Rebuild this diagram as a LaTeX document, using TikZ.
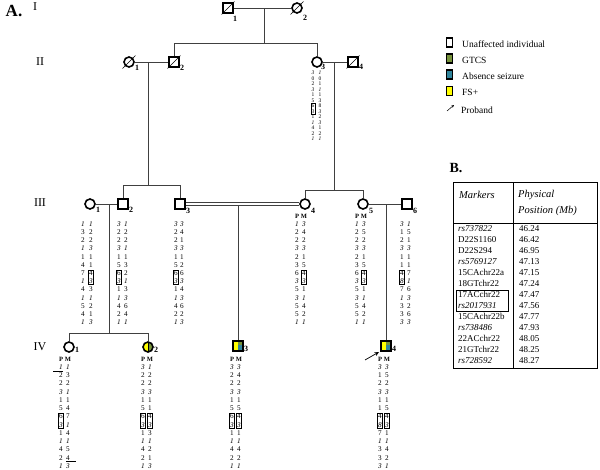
\documentclass[tikz,border=0pt]{standalone}
\usepackage{fontspec}
\setmainfont{Liberation Serif}
\usetikzlibrary{fit,arrows.meta}
\definecolor{gtcs}{HTML}{77933C}
\definecolor{absn}{HTML}{31859C}
\definecolor{fsp}{HTML}{FFFF00}
\definecolor{lncol}{HTML}{404040}
\newcommand{\rowstyle}[1]{\ifcase\numexpr#1\relax\or\itshape\or\or\or\itshape\or\or\or\or\itshape\or\or\itshape\or\or\or\itshape\fi}
\newcommand{\hfA}{\fontsize{7.2}{7.2}\selectfont}
\newcommand{\hfB}{\fontsize{5.5}{5.5}\selectfont}
\newcommand{\haplo}[7]{%
  \foreach [count=\i] \p/\q in {#7} {%
    \node[hapt,font=#6\rowstyle{\i}] (#1L\i) at (#2,{#4+(\i-1)*#5}) {\p};
    \node[hapt,font=#6\rowstyle{\i}] (#1R\i) at (#3,{#4+(\i-1)*#5}) {\q};
  }}
\tikzset{
  sq/.style={draw=black, line width=1.6pt, minimum size=10pt, inner sep=0, rectangle},
  ci/.style={draw=black, line width=1.6pt, minimum size=10pt, inner sep=0, circle},
  lab/.style={font=\bfseries\fontsize{8}{8}\selectfont, inner sep=0, anchor=west},
  hapt/.style={inner sep=0},
  pm/.style={font=\bfseries\fontsize{6.5}{6.5}\selectfont, inner sep=0},
  pl/.style={draw=lncol, line width=0.8pt},
  dec/.style={draw=black, line width=0.5pt},
  gen/.style={font=\fontsize{12}{12}\selectfont, inner sep=0},
  hbox/.style={draw=black, line width=0.4pt, inner sep=0.5pt},
  tab/.style={font=\fontsize{9}{9}\selectfont, inner sep=0, anchor=west, text height=6pt, text depth=2pt},
  legt/.style={font=\fontsize{9.5}{9.5}\selectfont, inner sep=0, anchor=west},
  legb/.style={draw=black, line width=1.2pt, minimum width=6pt, minimum height=9pt, inner sep=0},
}
\begin{document}
\begin{tikzpicture}[x=1pt,y=-1pt]
\useasboundingbox (0,0) rectangle (600,469);
% titles
\node[font=\bfseries\fontsize{17}{17}\selectfont, inner sep=0] (tA) at (14,11) {A.};
\node[font=\bfseries\fontsize{14}{14}\selectfont, inner sep=0] (tB) at (456,168) {B.};
\node[gen] (gI) at (35,7) {I};
\node[gen] (gII) at (40,62) {II};
\node[gen] (gIII) at (40,203) {III};
\node[gen] (gIV) at (40,347) {IV};

% colored fills (drawn before outlines)
\begin{scope}
  \clip (148,347) circle (5);
  \fill[fsp] (142,340) rectangle (148,354);
  \fill[gtcs] (148,340) rectangle (154,354);
\end{scope}
\draw[black, line width=0.5pt] (148,342.5) -- (148,351.5);
\fill[fsp] (233,341) rectangle (238,351);
\fill[gtcs] (238,341) rectangle (243,345);
\fill[absn] (238,345) rectangle (243,351);
\fill[fsp] (381,341) rectangle (386,351);
\fill[gtcs] (386,341) rectangle (391,345);
\fill[absn] (386,345) rectangle (391,351);

% Generation I
\node[sq] (I1) at (228,8) {};
\node[ci] (I2) at (297,8) {};
\node[lab] (lI1) at (233,19) {1};
\node[lab] (lI2) at (303,18) {2};
% Generation II
\node[ci] (II1) at (129,62) {};
\node[sq] (II2) at (174,62) {};
\node[ci] (II3) at (317,62) {};
\node[sq] (II4) at (353,62) {};
\node[lab] (lII1) at (135,68) {1};
\node[lab] (lII2) at (180,68) {2};
\node[lab] (lII3) at (321,67) {3};
\node[lab] (lII4) at (359,67) {4};
% Generation III
\node[ci] (III1) at (90,204) {};
\node[sq] (III2) at (123,204) {};
\node[sq] (III3) at (180,204) {};
\node[ci] (III4) at (305,204) {};
\node[ci] (III5) at (363,204) {};
\node[sq] (III6) at (407,204) {};
\node[lab] (lIII1) at (96,210) {1};
\node[lab] (lIII2) at (129,210) {2};
\node[lab] (lIII3) at (186,211) {3};
\node[lab] (lIII4) at (311,211) {4};
\node[lab] (lIII5) at (369,211) {5};
\node[lab] (lIII6) at (413,211) {6};
% Generation IV
\node[ci] (IV1) at (69,347) {};
\node[ci] (IV2) at (148,347) {};
\node[sq] (IV3) at (238,346) {};
\node[sq] (IV4) at (386,346) {};
\node[lab] (lIV1) at (75,350) {1};
\node[lab] (lIV2) at (154,350) {2};
\node[lab] (lIV3) at (244,349) {3};
\node[lab] (lIV4) at (392,349) {4};

% deceased slashes
\foreach \n in {I1,I2,II1,II2,II4}{
  \draw[dec] ([shift={(-6.5pt,-6.5pt)}]\n.center) -- ([shift={(6.5pt,6.5pt)}]\n.center);
}

% connectors
\draw[pl] (I1) -- (I2);
\coordinate (m1) at (264,8);
\coordinate (s1) at (264,43);
\draw[pl] (m1) -- (s1);
\draw[pl] (II2.north) |- (s1);
\draw[pl] (II3.north) |- (s1);

\draw[pl] (II1) -- (II2);
\coordinate (m2) at (148,62);
\coordinate (s2) at (148,185);
\draw[pl] (m2) -- (s2);
\draw[pl] (III2.north) |- (s2);
\draw[pl] (III3.north) |- (s2);

\draw[pl] (II3) -- (II4);
\coordinate (m3) at (334,62);
\coordinate (s3) at (334,190);
\draw[pl] (m3) -- (s3);
\draw[pl] (III4.north) |- (s3);
\draw[pl] (III5.north) |- (s3);

\draw[pl] (III1) -- (III2);
\coordinate (m4) at (109,204);
\coordinate (s4) at (109,333);
\draw[pl] (m4) -- (s4);
\draw[pl] (IV1.north) |- (s4);
\draw[pl] (IV2.north) |- (s4);

% consanguineous double line
\draw[pl, line width=0.7pt] ([yshift=1.3pt]III3.east) -- ([yshift=1.3pt]III4.west);
\draw[pl, line width=0.7pt] ([yshift=-1.3pt]III3.east) -- ([yshift=-1.3pt]III4.west);
\coordinate (m5) at (238,205.3);
\draw[pl] (m5) -- (IV3.north);

\draw[pl] (III5) -- (III6);
\coordinate (m6) at (386,204);
\draw[pl] (m6) -- (IV4.north);

% proband arrow
\coordinate (pr1) at (365,360);
\coordinate (pr2) at (379,352);
\draw[black, line width=0.7pt, -{Stealth[length=4.5pt,width=4pt]}] (pr1) -- (pr2);

% haplotypes
\haplo{hII3}{313}{320}{73}{5.5}{\hfB}{3/1,0/0,2/1,3/1,1/1,5/3,6/8,3/3,1/2,1/3,4/1,2/2,1/1}
\node[hbox, fit=(hII3L7)(hII3L8)] (bII3) {};

\haplo{hIII1}{83}{91}{224}{8.2}{\hfA}{1/1,3/2,2/2,1/3,1/1,4/1,7/4,1/3,4/3,1/1,5/2,4/1,1/3}
\node[hbox, fit=(hIII1R7)(hIII1R8)] (bIII1) {};
\haplo{hIII2}{119}{126}{224}{8.2}{\hfA}{3/1,2/2,2/2,3/1,1/1,5/3,6/2,3/1,1/3,1/3,4/6,2/4,1/1}
\node[hbox, fit=(hIII2L7)(hIII2L8)] (bIII2) {};
\haplo{hIII3}{176}{182}{224}{8.2}{\hfA}{3/3,2/4,2/1,3/3,1/1,5/2,6/6,3/3,1/4,1/3,4/6,2/2,1/3}
\node[hbox, fit=(hIII3L7)(hIII3L8)] (bIII3) {};
\node[pm] (pIII4) at (297,216) {P};
\node[pm] (qIII4) at (304,216) {M};
\haplo{hIII4}{297}{304}{224}{8.2}{\hfA}{1/3,2/4,2/2,3/3,2/1,3/5,6/4,3/3,5/1,3/1,5/4,5/2,1/1}
\node[hbox, fit=(hIII4R7)(hIII4R8)] (bIII4) {};
\node[pm] (pIII5) at (357,216) {P};
\node[pm] (qIII5) at (364,216) {M};
\haplo{hIII5}{357}{364}{224}{8.2}{\hfA}{1/3,2/5,2/2,3/3,2/1,3/5,6/4,3/3,5/1,3/1,5/4,5/2,1/1}
\node[hbox, fit=(hIII5R7)(hIII5R8)] (bIII5) {};
\haplo{hIII6}{402}{409}{224}{8.2}{\hfA}{3/1,1/5,2/1,3/3,1/1,1/1,4/7,8/1,7/6,1/3,3/2,3/6,3/3}
\node[hbox, fit=(hIII6L7)(hIII6L8)] (bIII6) {};

\node[pm] (pIV1) at (61,359) {P};
\node[pm] (qIV1) at (68,359) {M};
\haplo{hIV1}{61}{68}{367}{8.25}{\hfA}{1/1,2/3,2/2,3/1,1/1,5/4,6/7,3/1,1/4,1/1,4/5,2/4,1/3}
\node[hbox, fit=(hIV1L7)(hIV1L8)] (bIV1) {};
\draw[black, line width=0.5pt] ([xshift=-6pt,yshift=1pt]hIV1L2.north west) -- ([yshift=1pt]hIV1L2.north east);
\draw[black, line width=0.5pt] ([yshift=-0.8pt]hIV1R12.south west) -- ([xshift=6pt,yshift=-0.8pt]hIV1R12.south east);

\node[pm] (pIV2) at (143,359) {P};
\node[pm] (qIV2) at (150,359) {M};
\haplo{hIV2}{143}{150}{367}{8.25}{\hfA}{3/1,2/2,2/2,3/3,1/1,5/1,6/4,3/3,1/3,1/1,4/2,2/1,1/3}
\node[hbox, fit=(hIV2L7)(hIV2L8)] (bIV2a) {};
\node[hbox, fit=(hIV2R7)(hIV2R8)] (bIV2b) {};

\node[pm] (pIV3) at (232,359) {P};
\node[pm] (qIV3) at (239,359) {M};
\haplo{hIV3}{232}{239}{367}{8.25}{\hfA}{3/3,2/4,2/2,3/3,1/1,5/5,6/4,3/3,1/1,1/1,4/4,2/2,1/1}
\node[hbox, fit=(hIV3L7)(hIV3L8)] (bIV3a) {};
\node[hbox, fit=(hIV3R7)(hIV3R8)] (bIV3b) {};

\node[pm] (pIV4) at (380,359) {P};
\node[pm] (qIV4) at (387,359) {M};
\haplo{hIV4}{380}{387}{367}{8.25}{\hfA}{3/3,1/5,2/2,3/3,1/1,1/5,4/4,8/3,7/1,1/1,3/4,3/2,3/1}
\node[hbox, fit=(hIV4L7)(hIV4L8)] (bIV4a) {};
\node[hbox, fit=(hIV4R7)(hIV4R8)] (bIV4b) {};

% legend
\node[legb, fill=white] (lg1) at (449.5,42.5) {};
\node[legb, fill=gtcs] (lg2) at (449.5,58.5) {};
\node[legb, fill=absn] (lg3) at (449.5,74.5) {};
\node[legb, fill=fsp] (lg4) at (449.5,91) {};
\node[legt] (lt1) at (462,44) {Unaffected individual};
\node[legt] (lt2) at (462,60) {GTCS};
\node[legt] (lt3) at (462,76) {Absence seizure};
\node[legt] (lt4) at (462,92.5) {FS+};
\coordinate (pa1) at (447,111);
\coordinate (pa2) at (454,105);
\draw[black, line width=0.5pt, -{Stealth[length=2.8pt,width=2.5pt]}] (pa1) -- (pa2);
\node[legt] (lt5) at (461,110.5) {Proband};

% table
\draw[black, line width=0.7pt] (453,182) rectangle (597,368);
\draw[black, line width=0.7pt] (513,182) -- (513,368);
\draw[black, line width=0.7pt] (453,223) -- (597,223);
\node[font=\itshape\fontsize{10.5}{10.5}\selectfont, inner sep=0, anchor=west] (th1) at (459,195) {Markers};
\node[font=\itshape\fontsize{10.5}{10.5}\selectfont, inner sep=0, anchor=west] (th2) at (518,195) {Physical};
\node[font=\itshape\fontsize{10.5}{10.5}\selectfont, inner sep=0, anchor=west] (th3) at (518,211) {Position (Mb)};
\foreach [count=\i] \m/\v/\s in {rs737822/46.24/1,D22S1160/46.42/0,D22S294/46.95/0,rs5769127/47.13/1,15CAchr22a/47.15/0,18GTchr22/47.24/0,17ACchr22/47.47/0,rs2017931/47.56/1,15CAchr22b/47.77/0,rs738486/47.93/1,22ACchr22/48.05/0,21GTchr22/48.25/0,rs728592/48.27/1}{
  \node[tab] (mk\i) at (458,{229.5+(\i-1)*11}) {\ifnum\s=1 \itshape\fi\m};
  \node[tab] (pv\i) at (519,{229.5+(\i-1)*11}) {\v};
}
\node[draw=black, line width=0.6pt, minimum width=52pt, minimum height=21pt, inner sep=0] (tbx) at (482,301) {};
\end{tikzpicture}
\end{document}
